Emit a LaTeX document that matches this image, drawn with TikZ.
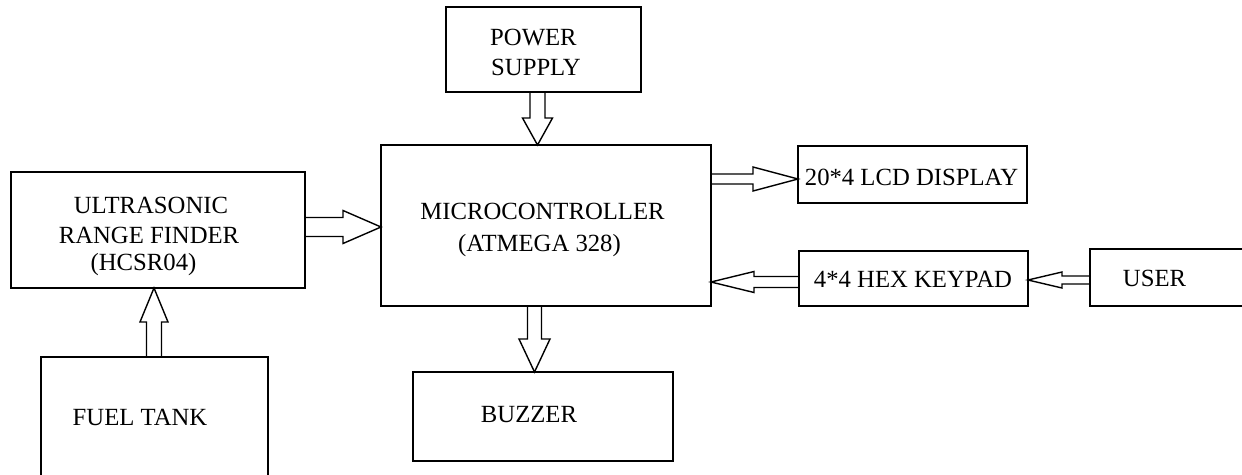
\documentclass[tikz,border=0pt]{standalone}
\usepackage{fontspec}
\setmainfont{Liberation Serif}
\usetikzlibrary{calc}
\tikzset{
  box/.style={draw,line width=1.6pt,rectangle,inner sep=0pt,outer sep=0pt},
  lbl/.style={anchor=base,inner sep=0pt,font=\fontsize{24.7}{30}\selectfont},
  harrow/.style={draw,line width=1.4pt,line join=miter}
}
\newcommand\hollowarrow[5]{%
  \coordinate (hs) at ($(#2)!#5!(#1)$);
  \draw[harrow] ($(#1)!#3!90:(#2)$) -- ($(hs)!#3!90:(#2)$) -- ($(hs)!#4!90:(#2)$) -- (#2)
     -- ($(hs)!#4!-90:(#2)$) -- ($(hs)!#3!-90:(#2)$) -- ($(#1)!#3!-90:(#2)$);}
\begin{document}
\begin{tikzpicture}[x=1pt,y=-1pt]
\useasboundingbox (0,0) rectangle (1242,474);
\clip (0,0) rectangle (1242,474);
\fill[white] (0,0) rectangle (1242,474);
% boxes
\node[box,minimum width=195,minimum height=85] (ps) at (543.5,49.5) {};
\node[box,minimum width=330,minimum height=161] (mc) at (546,225.5) {};
\node[box,minimum width=294,minimum height=116] (us) at (158,230) {};
\node[box,minimum width=227,minimum height=143] (ft) at (154.5,428.5) {};
\node[box,minimum width=229,minimum height=57] (lcd) at (912.5,174.5) {};
\node[box,minimum width=229,minimum height=55] (kp) at (913.5,278.5) {};
\node[box,minimum width=170,minimum height=57] (user) at (1175,277.5) {};
\node[box,minimum width=260,minimum height=89] (bz) at (543,416.5) {};
% texts
\node[lbl,anchor=base west] (t1) at (490,45) {POWER};
\node[lbl,anchor=base west] (t2) at (491,75) {SUPPLY};
\node[lbl] (t3) at (151,213) {ULTRASONIC};
\node[lbl] (t4) at (149,243) {RANGE FINDER};
\node[lbl] (t5) at (143.5,270) {(HCSR04)};
\node[lbl] (t6) at (542.5,219) {MICROCONTROLLER};
\node[lbl] (t7) at (539.5,251) {(ATMEGA 328)};
\node[lbl] (t8) at (911.5,185) {20*4 LCD DISPLAY};
\node[lbl] (t9) at (913,287) {4*4 HEX KEYPAD};
\node[lbl] (t10) at (1154.5,286) {USER};
\node[lbl] (t11) at (529,422) {BUZZER};
\node[lbl] (t12) at (140,425) {FUEL TANK};
% connector end points
\coordinate (a1) at (537.5,0 |- ps.south);
\coordinate (b1) at (537.5,0 |- mc.north);
\coordinate (a2) at (us.east |- 0,227);
\coordinate (b2) at (mc.west |- 0,227);
\coordinate (a3) at (mc.east |- 0,179);
\coordinate (b3) at (lcd.west |- 0,179);
\coordinate (a4) at (kp.west |- 0,282);
\coordinate (b4) at (mc.east |- 0,282);
\coordinate (a5) at (user.west |- 0,280);
\coordinate (b5) at (kp.east |- 0,280);
\coordinate (a6) at (534.5,0 |- mc.south);
\coordinate (b6) at (534.5,0 |- bz.north);
\coordinate (a7) at (154,0 |- ft.north);
\coordinate (b7) at (154,0 |- us.south);
% block arrows
\hollowarrow{a1}{b1}{7.5pt}{15pt}{27pt}
\hollowarrow{a2}{b2}{9.5pt}{16.5pt}{38pt}
\hollowarrow{a3}{b3}{5pt}{12pt}{45pt}
\hollowarrow{a4}{b4}{5.5pt}{10.5pt}{43pt}
\hollowarrow{a5}{b5}{4pt}{8pt}{34pt}
\hollowarrow{a6}{b6}{7pt}{15.5pt}{33pt}
\hollowarrow{a7}{b7}{7.5pt}{14pt}{34pt}
\end{tikzpicture}
\end{document}
